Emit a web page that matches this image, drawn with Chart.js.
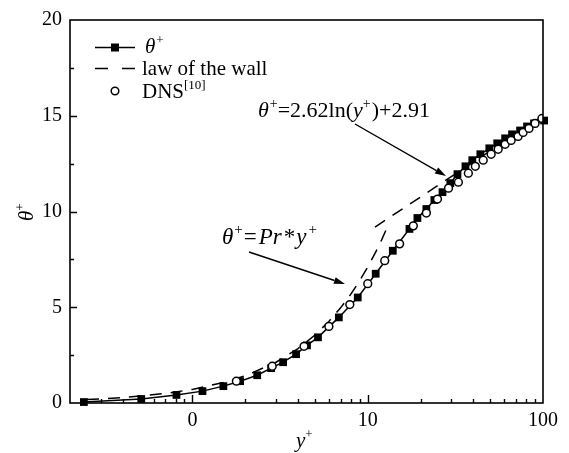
<!DOCTYPE html>
<html>
<head>
<meta charset="utf-8">
<script src="https://cdn.jsdelivr.net/npm/chart.js@4/dist/chart.umd.min.js"></script>
<style>
	html, body { margin: 0; padding: 0; background: #fff; }
	#wrap { width: 569px; height: 453px; }
</style>
</head>
<body>
<div id="wrap"><canvas id="theta-chart" width="569" height="453"></canvas></div>
<script>
	'use strict';

	// theta+ (filled squares, solid line)
	var thetaX = [0.24, 0.51, 0.81, 1.14, 1.50, 1.87, 2.34, 2.81, 3.29, 3.90, 4.50, 5.20, 6.84, 8.77, 11.1, 13.9, 17.3, 19.2, 21.6, 24.0, 26.7, 29.6, 32.5, 36.1, 39.5, 43.9, 49.4, 54.8, 60.8, 66.6, 74.0, 81.1, 88.9, 101.5];
	var thetaY = [0.05, 0.21, 0.42, 0.62, 0.88, 1.14, 1.45, 1.82, 2.13, 2.55, 3.01, 3.43, 4.47, 5.51, 6.75, 7.95, 9.09, 9.66, 10.13, 10.60, 11.01, 11.48, 11.95, 12.36, 12.68, 12.99, 13.30, 13.56, 13.82, 14.03, 14.23, 14.44, 14.60, 14.75];

	// DNS[10] (open circles)
	var dnsX = [1.78, 2.85, 4.33, 6.0, 7.9, 10.0, 12.5, 15.2, 18.2, 21.6, 25.0, 28.9, 32.9, 37.5, 41.1, 45.6, 50.6, 55.5, 60.8, 65.8, 72.1, 77.0, 83.2, 90.1, 98.6];
	var dnsY = [1.14, 1.92, 2.96, 4.00, 5.14, 6.23, 7.43, 8.31, 9.25, 9.92, 10.65, 11.22, 11.53, 12.00, 12.36, 12.68, 12.99, 13.25, 13.51, 13.71, 13.92, 14.13, 14.34, 14.60, 14.86];

	// law of the wall, linear part (theta+ = Pr*y+)
	var wallLinX = [0.25, 0.3, 0.4, 0.5, 0.7, 1, 1.5, 2, 3, 4, 5, 6, 7, 8, 9, 10, 11, 12, 13.2];
	var wallLinY = [0.18, 0.21, 0.28, 0.36, 0.50, 0.71, 1.07, 1.42, 2.13, 2.84, 3.55, 4.26, 4.97, 5.68, 6.39, 7.10, 7.81, 8.52, 9.37];

	// law of the wall, log part (theta+ = 2.62 ln(y+) + 2.91)
	var wallLogX = [11, 100];
	var wallLogY = [9.19, 14.98];

	// axis ticks
	var xTicks = [0.2, 0.3, 0.4, 0.5, 0.6, 0.7, 0.8, 0.9, 1, 2, 3, 4, 5, 6, 7, 8, 9, 10, 20, 30, 40, 50, 60, 70, 80, 90, 100];
	var xTickLabels = { 1: '0', 10: '10', 100: '100' };
	var xMajor = [1, 10];
	var yMajor = [5, 10, 15];

	var FONT = '"Liberation Serif", "Times New Roman", serif';

	function toPoints(xs, ys) {
		return xs.map(function (x, i) { return { x: x, y: ys[i] }; });
	}

	// text with italic parts and superscripts
	function drawRich(ctx, x, y, parts, size) {
		var cx = x;
		parts.forEach(function (p) {
			var fs = p.sup ? Math.round(size * 0.64) : size;
			ctx.font = (p.it ? 'italic ' : '') + fs + 'px ' + FONT;
			ctx.fillText(p.t, cx, p.sup ? y - size * 0.42 : y);
			cx += ctx.measureText(p.t).width + (p.gap || 0);
		});
		return cx;
	}

	function drawArrow(ctx, x1, y1, x2, y2) {
		var a = Math.atan2(y2 - y1, x2 - x1);
		var len = 11, hw = 3.5;
		var bx = x2 - len * Math.cos(a), by = y2 - len * Math.sin(a);
		ctx.beginPath();
		ctx.moveTo(x1, y1);
		ctx.lineTo(bx, by);
		ctx.lineWidth = 1.4;
		ctx.stroke();
		ctx.beginPath();
		ctx.moveTo(x2, y2);
		ctx.lineTo(bx + hw * Math.sin(a), by - hw * Math.cos(a));
		ctx.lineTo(bx - hw * Math.sin(a), by + hw * Math.cos(a));
		ctx.closePath();
		ctx.fill();
	}

	var framePlugin = {
		id: 'frameAndText',
		afterDraw: function (chart) {
			var ctx = chart.ctx;
			var area = chart.chartArea;
			var xs = chart.scales.x, ys = chart.scales.y;

			ctx.save();
			ctx.strokeStyle = '#000';
			ctx.fillStyle = '#000';

			// frame
			ctx.lineWidth = 1.6;
			ctx.strokeRect(area.left, area.top, area.right - area.left, area.bottom - area.top);

			// inward tick marks
			ctx.lineWidth = 1.4;
			ctx.beginPath();
			xTicks.forEach(function (v) {
				if (v <= 0.2 || v >= 100) return;
				var px = Math.round(xs.getPixelForValue(v)) + 0.5;
				var l = xMajor.indexOf(v) > -1 ? 8 : 4;
				ctx.moveTo(px, area.bottom);
				ctx.lineTo(px, area.bottom - l);
			});
			for (var v = 2.5; v < 20; v += 2.5) {
				var py = Math.round(ys.getPixelForValue(v)) + 0.5;
				var l = yMajor.indexOf(v) > -1 ? 7 : 4;
				ctx.moveTo(area.left, py);
				ctx.lineTo(area.left + l, py);
			}
			ctx.stroke();

			ctx.textAlign = 'left';
			ctx.textBaseline = 'alphabetic';

			// axis titles
			drawRich(ctx, 296, 447, [{ t: 'y', it: true }, { t: '+', sup: true }], 21);
			ctx.save();
			ctx.translate(33, 221);
			ctx.rotate(-Math.PI / 2);
			drawRich(ctx, 0, 0, [{ t: 'θ', it: true }, { t: '+', sup: true }], 21);
			ctx.restore();

			// legend
			ctx.lineWidth = 1.4;
			ctx.beginPath();
			ctx.moveTo(95, 47.5);
			ctx.lineTo(135, 47.5);
			ctx.stroke();
			ctx.fillRect(111, 43.5, 8, 8);
			drawRich(ctx, 145, 53, [{ t: 'θ', it: true, gap: 1 }, { t: '+', sup: true }], 21);

			ctx.beginPath();
			ctx.moveTo(95, 68.5);
			ctx.lineTo(108, 68.5);
			ctx.moveTo(122, 68.5);
			ctx.lineTo(135, 68.5);
			ctx.stroke();
			drawRich(ctx, 142, 75, [{ t: 'law of the wall' }], 21);

			ctx.beginPath();
			ctx.arc(115, 91, 3.8, 0, Math.PI * 2);
			ctx.lineWidth = 1.5;
			ctx.stroke();
			drawRich(ctx, 142, 97.5, [{ t: 'DNS' }, { t: '[10]', sup: true }], 21);

			// annotations
			drawRich(ctx, 258, 117, [
				{ t: 'θ', it: true, gap: 1 }, { t: '+', sup: true }, { t: '=2.62ln(' },
				{ t: 'y', it: true }, { t: '+', sup: true, gap: 1 }, { t: ')+2.91' }
			], 22);
			drawArrow(ctx, 355, 124, 446, 176);

			drawRich(ctx, 222, 244, [
				{ t: 'θ', it: true, gap: 1 }, { t: '+', sup: true, gap: 1 }, { t: '=', gap: 2 },
				{ t: 'Pr', it: true, gap: 2 }, { t: '*', gap: 1 }, { t: 'y', it: true, gap: 2 }, { t: '+', sup: true }
			], 23);
			drawArrow(ctx, 249, 252, 345, 284);

			ctx.restore();
		}
	};

	var ctx = document.getElementById('theta-chart');

	var chartObject = new Chart(ctx, {
		type: 'scatter',
		data: {
			datasets: [
				{
					label: 'DNS[10]',
					data: toPoints(dnsX, dnsY),
					showLine: false,
					pointStyle: 'circle',
					pointRadius: 3.9,
					pointBorderWidth: 1.5,
					pointBorderColor: '#000',
					pointBackgroundColor: '#fff'
				},
				{
					label: 'θ+',
					data: toPoints(thetaX, thetaY),
					showLine: true,
					borderColor: '#000',
					borderWidth: 1.5,
					pointStyle: 'rect',
					pointRadius: 5.5,
					pointBorderWidth: 0,
					pointBackgroundColor: '#000',
					clip: false
				},
				{
					label: 'law of the wall',
					data: toPoints(wallLinX, wallLinY),
					showLine: true,
					borderColor: '#000',
					borderWidth: 1.5,
					borderDash: [12, 9],
					pointRadius: 0
				},
				{
					label: 'law of the wall (log)',
					data: toPoints(wallLogX, wallLogY),
					showLine: true,
					borderColor: '#000',
					borderWidth: 1.5,
					borderDash: [12, 9],
					pointRadius: 0
				}
			]
		},
		options: {
			responsive: false,
			animation: false,
			devicePixelRatio: 1,
			layout: { padding: { left: 0, right: 26, top: 18, bottom: 0 } },
			plugins: {
				legend: { display: false },
				tooltip: { enabled: false }
			},
			scales: {
				x: {
					type: 'logarithmic',
					min: 0.2,
					max: 100,
					grid: { display: false, drawTicks: false },
					border: { display: false },
					afterBuildTicks: function (scale) {
						scale.ticks = xTicks.map(function (v) { return { value: v }; });
					},
					afterFit: function (scale) { scale.height = 50; },
					ticks: {
						autoSkip: false,
						maxRotation: 0,
						padding: 6,
						color: '#000',
						font: { family: FONT, size: 20 },
						callback: function (value) {
							return xTickLabels[value] !== undefined ? xTickLabels[value] : '';
						}
					}
				},
				y: {
					min: 0,
					max: 20,
					grid: { display: false, drawTicks: false },
					border: { display: false },
					afterFit: function (scale) { scale.width = 70; },
					ticks: {
						stepSize: 2.5,
						padding: 8,
						color: '#000',
						font: { family: FONT, size: 20 },
						callback: function (value) {
							return value % 5 === 0 ? value : '';
						}
					}
				}
			}
		},
		plugins: [framePlugin]
	});
</script>
</body>
</html>
